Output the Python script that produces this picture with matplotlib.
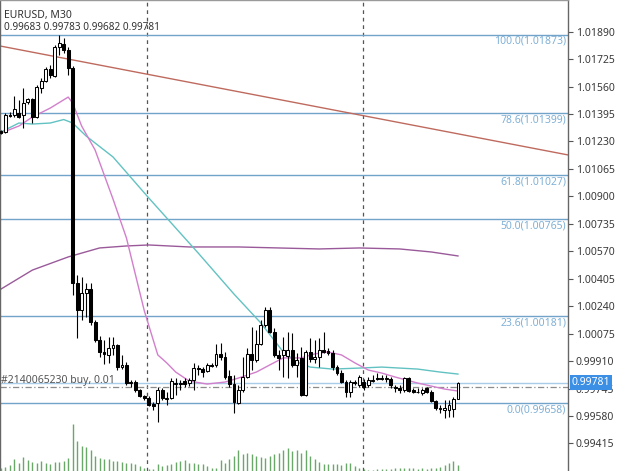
import numpy as np
import matplotlib
matplotlib.use("Agg")
import matplotlib.pyplot as plt
from matplotlib.transforms import blended_transform_factory

plt.rcParams['font.family'] = ['Noto Sans', 'DejaVu Sans']

# ---------------- data (EURUSD M30) ----------------
opens = [1.01293, 1.01287, 1.01389, 1.01389, 1.01401, 1.01389, 1.01467, 1.01485, 1.01377, 1.01552,
         1.01594, 1.01666, 1.01624, 1.01798, 1.01816, 1.01780, 1.01672, 1.00379, 1.00217, 1.00319,
         1.00343, 1.00145, 1.00037, 0.99965, 0.99947, 0.99989, 1.00007, 0.99874, 0.99886, 0.99778,
         0.99784, 0.99736, 0.99700, 0.99688, 0.99652, 0.99658, 0.99736, 0.99682, 0.99688, 0.99772,
         0.99772, 0.99790, 0.99778, 0.99796, 0.99868, 0.99862, 0.99850, 0.99886, 0.99886, 0.99953,
         0.99935, 0.99820, 0.99772, 0.99658, 0.99736, 0.99814, 0.99953, 0.99917, 1.00013, 1.00127,
         1.00217, 1.00085, 0.99947, 0.99947, 0.99941, 0.99977, 0.99886, 0.99929, 0.99706, 0.99965,
         0.99923, 0.99935, 0.99977, 0.99971, 0.99959, 0.99874, 0.99838, 0.99784, 0.99724, 0.99784,
         0.99766, 0.99784, 0.99766, 0.99790, 0.99808, 0.99808, 0.99802, 0.99802, 0.99754, 0.99748,
         0.99736, 0.99808, 0.99736, 0.99724, 0.99718, 0.99748, 0.99724, 0.99670, 0.99622, 0.99616,
         0.99616, 0.99622, 0.99683]
highs = [1.01299, 1.01401, 1.01407, 1.01503, 1.01479, 1.01552, 1.01491, 1.01491, 1.01570, 1.01612,
         1.01678, 1.01690, 1.01810, 1.01873, 1.01852, 1.01798, 1.01684, 1.00427, 1.00415, 1.00379,
         1.00379, 1.00157, 1.00061, 1.00037, 1.00055, 1.00055, 1.00013, 0.99947, 0.99904, 0.99796,
         0.99796, 0.99742, 0.99706, 0.99700, 0.99664, 0.99754, 0.99748, 0.99724, 0.99808, 0.99808,
         0.99796, 0.99808, 0.99808, 0.99898, 0.99886, 0.99874, 0.99898, 0.99898, 1.00013, 1.00019,
         0.99965, 0.99856, 0.99826, 0.99766, 0.99935, 0.99989, 1.00115, 1.00097, 1.00157, 1.00235,
         1.00235, 1.00109, 0.99977, 1.00055, 1.00085, 1.00079, 0.99959, 0.99995, 0.99977, 1.00049,
         1.00037, 1.00049, 1.00085, 0.99989, 0.99977, 0.99886, 0.99856, 0.99796, 0.99796, 0.99796,
         0.99826, 0.99802, 0.99814, 0.99826, 0.99838, 0.99826, 0.99826, 0.99814, 0.99766, 0.99766,
         0.99814, 0.99814, 0.99748, 0.99748, 0.99748, 0.99754, 0.99736, 0.99676, 0.99646, 0.99676,
         0.99676, 0.99694, 0.99783]
lows = [1.01275, 1.01281, 1.01377, 1.01377, 1.01371, 1.01311, 1.01455, 1.01341, 1.01371, 1.01522,
        1.01588, 1.01612, 1.01618, 1.01750, 1.01762, 1.01630, 1.00307, 1.00049, 1.00157, 1.00175,
        1.00127, 1.00025, 0.99935, 0.99893, 0.99899, 0.99947, 0.99856, 0.99862, 0.99766, 0.99754,
        0.99724, 0.99694, 0.99676, 0.99640, 0.99616, 0.99544, 0.99676, 0.99646, 0.99682, 0.99706,
        0.99736, 0.99754, 0.99760, 0.99736, 0.99826, 0.99814, 0.99844, 0.99874, 0.99874, 0.99917,
        0.99802, 0.99754, 0.99598, 0.99652, 0.99724, 0.99808, 0.99856, 0.99905, 1.00007, 1.00115,
        1.00079, 0.99935, 0.99856, 0.99814, 0.99808, 0.99874, 0.99814, 0.99700, 0.99700, 0.99905,
        0.99899, 0.99874, 0.99959, 0.99947, 0.99856, 0.99826, 0.99778, 0.99694, 0.99694, 0.99766,
        0.99754, 0.99736, 0.99754, 0.99784, 0.99796, 0.99796, 0.99784, 0.99748, 0.99724, 0.99718,
        0.99724, 0.99724, 0.99718, 0.99718, 0.99706, 0.99718, 0.99664, 0.99616, 0.99598, 0.99568,
        0.99574, 0.99574, 0.99682]
closes = [1.01281, 1.01389, 1.01383, 1.01425, 1.01377, 1.01461, 1.01485, 1.01377, 1.01558, 1.01594,
          1.01666, 1.01630, 1.01798, 1.01822, 1.01780, 1.01672, 1.00379, 1.00217, 1.00319, 1.00343,
          1.00145, 1.00037, 0.99965, 0.99953, 0.99989, 1.00007, 0.99874, 0.99886, 0.99778, 0.99784,
          0.99736, 0.99700, 0.99688, 0.99646, 0.99640, 0.99736, 0.99688, 0.99688, 0.99790, 0.99778,
          0.99778, 0.99772, 0.99796, 0.99868, 0.99862, 0.99844, 0.99886, 0.99880, 0.99953, 0.99935,
          0.99814, 0.99772, 0.99664, 0.99736, 0.99814, 0.99953, 0.99917, 1.00013, 1.00127, 1.00217,
          1.00085, 0.99947, 0.99929, 0.99977, 0.99977, 0.99886, 0.99917, 0.99706, 0.99965, 0.99923,
          0.99935, 0.99977, 0.99965, 0.99959, 0.99874, 0.99838, 0.99784, 0.99724, 0.99784, 0.99778,
          0.99814, 0.99754, 0.99796, 0.99796, 0.99805, 0.99805, 0.99808, 0.99766, 0.99748, 0.99736,
          0.99808, 0.99730, 0.99724, 0.99727, 0.99736, 0.99724, 0.99670, 0.99628, 0.99625, 0.99628,
          0.99646, 0.99682, 0.99781]
volumes = [100, 130, 180, 350, 250, 410, 330, 280, 230, 300,
           230, 200, 280, 280, 310, 380, 1400, 900, 760, 730,
           630, 460, 400, 360, 350, 310, 310, 280, 250, 230,
           210, 160, 80, 50, 50, 200, 150, 180, 200, 280,
           300, 320, 250, 250, 220, 200, 150, 100, 80, 330,
           250, 350, 450, 620, 500, 550, 500, 450, 430, 400,
           450, 500, 550, 630, 680, 600, 620, 550, 630, 450,
           350, 280, 200, 200, 200, 220, 180, 250, 230, 150,
           80, 50, 30, 30, 50, 60, 60, 60, 80, 80,
           100, 80, 80, 60, 80, 60, 100, 80, 130, 180,
           250, 300, 180]

# moving averages, read at selected bars
ma_fast_idx = [0, 4, 7, 11, 15, 16, 18, 21, 25, 28, 32, 35, 37, 39, 42, 46, 50, 53, 57, 60,
               63, 67, 70, 73, 76, 79, 82, 85, 88, 93, 96, 99, 102]
ma_fast_val = [1.01281, 1.01323, 1.01377, 1.01431, 1.01497, 1.01461, 1.01323, 1.01179, 1.00884, 1.00650,
               1.00211, 0.99947, 0.99899, 0.99844, 0.99790, 0.99772, 0.99784, 0.99808, 0.99844, 0.99887,
               0.99929, 0.99929, 0.99953, 0.99965, 0.99947, 0.99899, 0.99856, 0.99838, 0.99814, 0.99778,
               0.99760, 0.99742, 0.99730]
ma_mid_idx = [0, 4, 7, 11, 14, 16, 19, 25, 33, 44, 52, 58, 63, 66, 69, 74, 80, 85, 93, 98, 102]
ma_mid_val = [1.01287, 1.01341, 1.01335, 1.01341, 1.01362, 1.01341, 1.01263, 1.01137, 1.00890, 1.00560,
              1.00313, 1.00139, 0.99965, 0.99905, 0.99874, 0.99862, 0.99868, 0.99874, 0.99862, 0.99844,
              0.99832]
ma_slow_idx = [0, 7, 15, 22, 28, 33, 42, 53, 71, 80, 89, 96, 102]
ma_slow_val = [1.00343, 1.00457, 1.00536, 1.00590, 1.00602, 1.00608, 1.00596, 1.00596, 1.00584, 1.00590,
               1.00584, 1.00566, 1.00542]

fib_pct = ["100.0", "78.6", "61.8", "50.0", "23.6", "0.0"]
fib_price = [1.01873, 1.01399, 1.01027, 1.00765, 1.00181, 0.99658]

trend_points = [(0, 1.01803), (126, 1.01152)]
day_separators = [32.5, 80.7]

price_ticks = [1.01890, 1.01725, 1.01560, 1.01395, 1.01230, 1.01065, 1.00900, 1.00735,
               1.00570, 1.00405, 1.00240, 1.00075, 0.99910, 0.99745, 0.99580, 0.99415]

bid_price = 0.99781
order_price = 0.99756
order_label = "#2140065230 buy, 0.01"
symbol_label = "EURUSD, M30"

# ---------------- figure ----------------
W, H = 625, 471
fig = plt.figure(figsize=(W / 100, H / 100), dpi=100)
fig.patch.set_facecolor("white")
axw = 568 / W
ax = fig.add_axes([0, 0, axw, 1])
xlim = (-0.223, 126.56)
ylim = (0.992493, 1.020805)
ax.set_xlim(*xlim)
ax.set_ylim(*ylim)

o = np.array(opens); h = np.array(highs); l = np.array(lows); c = np.array(closes)
idx = np.arange(len(o))
up = c >= o

# separators
for xs in day_separators:
    ax.axvline(xs, color="#555555", lw=0.9, ls=(0, (3, 3)), zorder=1)

# fibonacci levels
for pct, pr in zip(fib_pct, fib_price):
    ax.axhline(pr, color="#72a3c8", lw=1.0, zorder=1)
    ax.annotate(f"{pct}({pr:.5f})", xy=(1, pr), xycoords=("axes fraction", "data"),
                xytext=(-1.2, -6.8), textcoords="offset points", ha="right", va="baseline",
                fontsize=7.5, color="#7fb0d6", zorder=2)

# trend line
ax.axline(trend_points[0], trend_points[1], color="#bf6a5e", lw=1.0, zorder=2)

# bid & order lines
ax.axhline(bid_price, color="#a9cde8", lw=1.0, zorder=1)
ax.axhline(order_price, color="#8c8c8c", lw=0.9, ls=(0, (5, 2, 1, 2)), zorder=1)
ax.text(1 / 568, order_price + 0.00004, order_label,
        transform=blended_transform_factory(ax.transAxes, ax.transData),
        fontsize=7.5, color="#555555", va="bottom", ha="left", zorder=6)

# moving averages
ax.plot(ma_slow_idx, ma_slow_val, color="#9a5a9a", lw=1.0, zorder=2)
ax.plot(ma_mid_idx, ma_mid_val, color="#62c2c2", lw=1.0, zorder=2)
ax.plot(ma_fast_idx, ma_fast_val, color="#d27fcc", lw=1.0, zorder=2)

# candles
ax.vlines(idx, l, h, color="black", lw=0.8, zorder=3)
body_h = np.maximum(np.abs(c - o), 0.000015)
ax.bar(idx, body_h, bottom=np.minimum(o, c), width=0.64,
       color=np.where(up, "white", "black"), edgecolor="black", linewidth=0.75, zorder=4)

# axis styling
ax.set_xticks([])
ax.yaxis.tick_right()
ax.set_yticks(price_ticks)
ax.set_yticklabels([f"{t:.5f}" for t in price_ticks])
ax.tick_params(axis="y", direction="out", length=3.5, width=0.8, color="#555555",
               labelsize=7.5, labelcolor="#3a3a3a", pad=2)
for s in ["left", "right"]:
    ax.spines[s].set_color("#666666")
    ax.spines[s].set_linewidth(1.0)
ax.spines["top"].set_color("#9a9a9a")
ax.spines["top"].set_linewidth(1.0)
ax.spines["bottom"].set_visible(False)
ax.set_facecolor("white")

# current price box (drawn over the partly hidden 0.99745 tick label, as in the terminal)
ax.text(1.006, bid_price, f"{bid_price:.5f}", transform=blended_transform_factory(ax.transAxes, ax.transData),
        fontsize=7.5, color="white", va="center", ha="left", zorder=10, clip_on=False,
        bbox=dict(boxstyle="square,pad=0.15", facecolor="#3b8fe5", edgecolor="none"))

# header
ax.text(4 / 568, 1 - 18 / H, symbol_label, transform=ax.transAxes, fontsize=7.5,
        color="#333333", va="baseline", ha="left", zorder=6)
ax.text(4 / 568, 1 - 29.5 / H, f"{opens[-1]:.5f} {highs[-1]:.5f} {lows[-1]:.5f} {closes[-1]:.5f}",
        transform=ax.transAxes, fontsize=7.2, color="#333333", va="baseline", ha="left", zorder=6)

# volumes
vax = fig.add_axes([0, 0, axw, 60 / H])
vax.set_xlim(*xlim)
vax.set_ylim(0, 1400 * 60 / 46.7)
vax.patch.set_alpha(0)
vax.axis("off")
vax.vlines(idx, 0, volumes, color="#6aa86a", lw=1.0)

fig.savefig("out.png", dpi=100, facecolor="white")
